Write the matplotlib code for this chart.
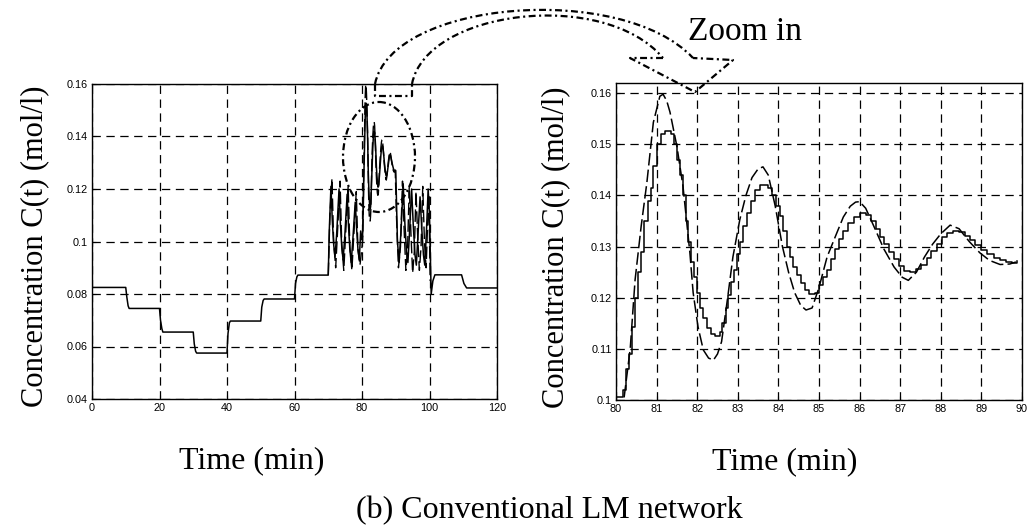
import matplotlib
matplotlib.use("Agg")
import matplotlib.pyplot as plt
from matplotlib.patches import Ellipse, PathPatch
from matplotlib.path import Path
from matplotlib.ticker import FuncFormatter

# ---------------- data ----------------
# staircase set-point responses (mol/l) before and after the oscillating window
pre_t = [0, 10.0, 10.3, 10.7, 11.0, 20.0, 20.3, 20.7, 21.0, 30.0, 30.3, 30.7, 31.0,
         40.0, 40.3, 40.7, 41.0, 50.0, 50.3, 50.7, 51.0, 60.0, 60.3, 60.7, 61.0, 70.0]
pre_c = [0.0825, 0.0825, 0.0790, 0.0755, 0.0745, 0.0745, 0.0700, 0.0668, 0.0655,
         0.0655, 0.0610, 0.0582, 0.0575, 0.0575, 0.0650, 0.0690, 0.0697,
         0.0697, 0.0750, 0.0775, 0.0781, 0.0781, 0.0840, 0.0865, 0.0872, 0.0872]

post_t = [100.5, 101.0, 101.6, 109.5, 110.2, 111.0, 120.0]
post_c = [0.0800, 0.0850, 0.0873, 0.0873, 0.0840, 0.0823, 0.0823]

# oscillating section 70-80 min
osc1_t = [70.0, 70.3, 70.8, 71.2, 71.6, 72.0, 72.5, 73.2, 73.6, 74.0, 74.4, 74.9,
          75.6, 76.0, 76.4, 76.8, 77.3, 78.0, 78.4, 78.8, 79.2, 79.6]
osc1_c = [0.0872, 0.104, 0.121, 0.108, 0.099, 0.094, 0.103, 0.120, 0.107, 0.098,
          0.093, 0.102, 0.118, 0.106, 0.097, 0.092, 0.101, 0.115, 0.105, 0.097,
          0.093, 0.104]
osc1_dash_t = [70.0, 70.5, 71.1, 71.6, 72.2, 72.8, 73.5, 74.0, 74.6, 75.2, 75.9,
               76.4, 77.0, 77.6, 78.3, 78.8, 79.4, 80.0]
osc1_dash_c = [0.0872, 0.110, 0.124, 0.100, 0.090, 0.105, 0.123, 0.099, 0.089,
               0.104, 0.121, 0.098, 0.089, 0.103, 0.119, 0.097, 0.091, 0.098]

# oscillating section 90-100 min
osc2_t = [90.0, 90.5, 91.0, 91.6, 92.2, 92.7, 93.2, 93.6, 94.1, 94.7, 95.2, 95.7,
          96.1, 96.6, 97.2, 97.7, 98.2, 98.6, 99.1, 99.6, 100.0]
osc2_c = [0.127, 0.100, 0.092, 0.105, 0.122, 0.107, 0.096, 0.092, 0.104, 0.120,
          0.106, 0.095, 0.091, 0.103, 0.117, 0.105, 0.095, 0.091, 0.104, 0.120,
          0.110]
osc2_dash_t = [90.2, 90.8, 91.4, 92.0, 92.5, 93.0, 93.5, 94.0, 94.5, 95.0, 95.5,
               96.0, 96.5, 97.0, 97.5, 98.0, 98.5, 99.0, 99.4, 99.8, 100.2]
osc2_dash_c = [0.110, 0.090, 0.098, 0.123, 0.104, 0.089, 0.097, 0.121, 0.103,
               0.088, 0.096, 0.119, 0.102, 0.089, 0.098, 0.121, 0.100, 0.090,
               0.105, 0.118, 0.085]

# detailed window 80-90 min: network output (staircase) and plant (dashed)
zoom_t = [80.00, 80.17, 80.25, 80.32, 80.40, 80.47, 80.55, 80.62, 80.70, 80.78,
          80.85, 80.92, 81.00, 81.12, 81.20, 81.35, 81.42, 81.50, 81.57, 81.65,
          81.72, 81.78, 81.85, 81.92, 82.00, 82.07, 82.15, 82.25, 82.35, 82.45,
          82.55, 82.62, 82.70, 82.76, 82.83, 82.90, 82.97, 83.05, 83.13, 83.22,
          83.32, 83.42, 83.55, 83.75, 83.85, 83.95, 84.04, 84.12, 84.20, 84.28,
          84.36, 84.45, 84.55, 84.65, 84.75, 84.90, 85.00, 85.10, 85.20, 85.30,
          85.40, 85.50, 85.60, 85.72, 85.85, 86.00, 86.15, 86.28, 86.40, 86.50,
          86.60, 86.72, 86.85, 86.97, 87.10, 87.25, 87.40, 87.52, 87.65, 87.77,
          87.90, 88.02, 88.15, 88.30, 88.45, 88.60, 88.72, 88.85, 89.00, 89.15,
          89.30, 89.45, 89.60, 89.75, 89.88]
zoom_c = [0.1006, 0.1020, 0.1060, 0.1090, 0.1143, 0.1200, 0.1250, 0.1290, 0.1350,
          0.1390, 0.1415, 0.1457, 0.1500, 0.1520, 0.1527, 0.1520, 0.1500, 0.1470,
          0.1440, 0.1400, 0.1350, 0.1310, 0.1270, 0.1240, 0.1210, 0.1180, 0.1160,
          0.1140, 0.1130, 0.1125, 0.1133, 0.1150, 0.1180, 0.1205, 0.1230, 0.1255,
          0.1285, 0.1310, 0.1340, 0.1365, 0.1390, 0.1410, 0.1420, 0.1415, 0.1400,
          0.1380, 0.1360, 0.1330, 0.1300, 0.1280, 0.1260, 0.1245, 0.1228, 0.1215,
          0.1207, 0.1210, 0.1225, 0.1240, 0.1255, 0.1275, 0.1295, 0.1315, 0.1330,
          0.1347, 0.1358, 0.1365, 0.1362, 0.1350, 0.1335, 0.1318, 0.1305, 0.1290,
          0.1275, 0.1262, 0.1253, 0.1250, 0.1256, 0.1265, 0.1278, 0.1292, 0.1305,
          0.1318, 0.1327, 0.1331, 0.1328, 0.1320, 0.1312, 0.1303, 0.1294, 0.1285,
          0.1278, 0.1273, 0.1269, 0.1268, 0.1272]
zoom_dash_t = [80.20, 80.35, 80.47, 80.62, 80.76, 80.92, 81.08, 81.16, 81.25, 81.33,
               81.50, 81.65, 81.82, 81.90, 82.02, 82.15, 82.28, 82.40, 82.50, 82.60,
               82.75, 82.88, 83.05, 83.20, 83.35, 83.50, 83.62, 83.75, 83.92, 84.10,
               84.25, 84.40, 84.55, 84.68, 84.83, 85.00, 85.20, 85.44, 85.60, 85.77,
               85.90, 86.00, 86.15, 86.35, 86.60, 86.85, 87.05, 87.20, 87.40, 87.60,
               87.80, 88.00, 88.23, 88.45, 88.70, 88.96, 89.20, 89.46, 89.70, 89.85]
zoom_dash_c = [0.1005, 0.1100, 0.1235, 0.1340, 0.1425, 0.1543, 0.1594, 0.1598,
               0.1585, 0.1563, 0.1496, 0.1418, 0.1288, 0.1210, 0.1143, 0.1098,
               0.1082, 0.1078, 0.1090, 0.1114, 0.1200, 0.1280, 0.1353, 0.1400,
               0.1435, 0.1452, 0.1456, 0.1440, 0.1380, 0.1300, 0.1250, 0.1210,
               0.1185, 0.1176, 0.1180, 0.1220, 0.1280, 0.1327, 0.1358, 0.1379,
               0.1387, 0.1388, 0.1375, 0.1340, 0.1295, 0.1260, 0.1240, 0.1234,
               0.1250, 0.1280, 0.1305, 0.1325, 0.1342, 0.1335, 0.1310, 0.1288,
               0.1273, 0.1265, 0.1266, 0.1270]

left_xticks = [0, 20, 40, 60, 80, 100, 120]
left_yticks = [0.04, 0.06, 0.08, 0.10, 0.12, 0.14, 0.16]
right_xticks = list(range(80, 91))
right_yticks = [0.10, 0.11, 0.12, 0.13, 0.14, 0.15, 0.16]

# ---------------- styling ----------------
plt.rcParams['lines.scale_dashes'] = False
SERIF = ['Liberation Serif', 'DejaVu Serif']
TICKFONT = ['Liberation Sans', 'DejaVu Sans']
grid_ls = (0, (6, 4))
curve_dash = (0, (9, 3))

W, H = 1028, 529
fig = plt.figure(figsize=(W / 100, H / 100), dpi=100)
fig.patch.set_facecolor('white')

axL = fig.add_axes([92 / W, 1 - 399 / H, 405 / W, 315 / H])
axR = fig.add_axes([616 / W, 1 - 400 / H, 406 / W, 317 / H])

fmt = FuncFormatter(lambda v, p: f"{v:g}")


def style_axes(ax, xt, yt, xlim, ylim):
    ax.set_xlim(*xlim)
    ax.set_ylim(*ylim)
    ax.set_xticks(xt)
    ax.set_yticks(yt)
    ax.xaxis.set_major_formatter(fmt)
    ax.yaxis.set_major_formatter(fmt)
    ax.grid(True, color='black', linestyle=grid_ls, linewidth=0.9)
    ax.tick_params(direction='in', length=3, width=0.8, pad=3, labelsize=7.8)
    for lab in ax.get_xticklabels() + ax.get_yticklabels():
        lab.set_family(TICKFONT)
    for s in ax.spines.values():
        s.set_linewidth(1.0)
        s.set_color('black')


# left: full run
left_t = pre_t + osc1_t + zoom_t + osc2_t + post_t
left_c = pre_c + osc1_c + zoom_c + osc2_c + post_c
left_dash_t = osc1_dash_t + zoom_dash_t + osc2_dash_t
left_dash_c = osc1_dash_c + zoom_dash_c + osc2_dash_c
axL.plot(left_t, left_c, color='black', linewidth=1.1)
axL.plot(left_dash_t, left_dash_c, color='black', linewidth=1.0, linestyle=curve_dash)
style_axes(axL, left_xticks, left_yticks, (0, 120), (0.04, 0.16))

# right: 80-90 min detail
axR.plot(zoom_t, zoom_c, color='black', linewidth=1.1, drawstyle='steps-post')
axR.plot(zoom_dash_t, zoom_dash_c, color='black', linewidth=1.1, linestyle=curve_dash)
style_axes(axR, right_xticks, right_yticks, (80, 90), (0.10, 0.162))

# axis titles and caption
ylabel = 'Concentration C(t) (mol/l)'
fig.text(35 / W, 1 - 246 / H, ylabel, rotation=90, ha='center', va='center',
         family=SERIF, fontsize=22)
fig.text(556 / W, 1 - 247 / H, ylabel, rotation=90, ha='center', va='center',
         family=SERIF, fontsize=22)
fig.text(252 / W, 1 - 461 / H, 'Time (min)', ha='center', va='center',
         family=SERIF, fontsize=23)
fig.text(785 / W, 1 - 462 / H, 'Time (min)', ha='center', va='center',
         family=SERIF, fontsize=23)
fig.text(549 / W, 1 - 511 / H, '(b) Conventional LM network', ha='center',
         va='center', family=SERIF, fontsize=23)
fig.text(688 / W, 1 - 32 / H, 'Zoom in', ha='left', va='center',
         family=SERIF, fontsize=24)

# overlay in pixel units for the zoom-in callout
ov = fig.add_axes([0, 0, 1, 1], zorder=10)
ov.set_xlim(0, W)
ov.set_ylim(H, 0)
ov.axis('off')
ov.patch.set_alpha(0)

dd = (0, (5, 2.5, 1.5, 2.5))
kw = dict(facecolor='none', edgecolor='black', linewidth=1.6, linestyle=dd)

ov.add_patch(Ellipse((379, 157), 72, 110, **kw))

outer = Path([(375, 84), (392, 0), (622, -18), (693, 58)],
             [Path.MOVETO, Path.CURVE4, Path.CURVE4, Path.CURVE4])
inner = Path([(412, 84), (426, 10), (604, -12), (663, 58)],
             [Path.MOVETO, Path.CURVE4, Path.CURVE4, Path.CURVE4])
ov.add_patch(PathPatch(outer, **kw))
ov.add_patch(PathPatch(inner, **kw))
ov.plot([375, 375, 412, 412], [84, 96, 96, 84], color='black', lw=1.6, linestyle=dd)
ov.plot([663, 630, 695, 733, 693], [58, 58, 92, 60, 58], color='black', lw=1.6,
        linestyle=dd)

fig.savefig('out.png', dpi=100, facecolor='white')
